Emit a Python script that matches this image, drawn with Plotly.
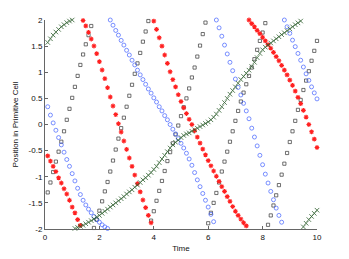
import plotly.graph_objects as go

time = [0.1, 0.2, 0.3, 0.4, 0.5, 0.6, 0.7, 0.8, 0.9, 1.0,
        1.1, 1.2, 1.3, 1.4, 1.5, 1.6, 1.7, 1.8, 1.9, 2.0,
        2.1, 2.2, 2.3, 2.4, 2.5, 2.6, 2.7, 2.8, 2.9, 3.0,
        3.1, 3.2, 3.3, 3.4, 3.5, 3.6, 3.7, 3.8, 3.9, 4.0,
        4.1, 4.2, 4.3, 4.4, 4.5, 4.6, 4.7, 4.8, 4.9, 5.0,
        5.1, 5.2, 5.3, 5.4, 5.5, 5.6, 5.7, 5.8, 5.9, 6.0,
        6.1, 6.2, 6.3, 6.4, 6.5, 6.6, 6.7, 6.8, 6.9, 7.0,
        7.1, 7.2, 7.3, 7.4, 7.5, 7.6, 7.7, 7.8, 7.9, 8.0,
        8.1, 8.2, 8.3, 8.4, 8.5, 8.6, 8.7, 8.8, 8.9, 9.0,
        9.1, 9.2, 9.3, 9.4, 9.5, 9.6, 9.7, 9.8, 9.9, 10.0]

red_pos = [-0.60, -0.70, -0.80, -0.90, -1.02, -1.12, -1.23, -1.33, -1.45, -1.58,
           -1.69, -1.82, -1.93, 1.99, 1.886, 1.765, 1.636, 1.502, 1.355, 1.202,
           1.043, 0.877, 0.704, 0.526, 0.354, 0.19, 0.015, -0.144, -0.316, -0.475,
           -0.641, -0.80, -0.967, -1.133, -1.29, -1.445, -1.59, -1.74, -1.88, 1.98,
           1.82, 1.66, 1.50, 1.33, 1.17, 1.01, 0.86, 0.72, 0.57, 0.44,
           0.32, 0.21, 0.10, 0.0, -0.12, -0.24, -0.355, -0.47, -0.58, -0.69,
           -0.79, -0.89, -0.99, -1.09, -1.19, -1.28, -1.38, -1.47, -1.57, -1.66,
           -1.74, -1.81, -1.88, -1.94, 2.00, 1.93, 1.87, 1.80, 1.74, 1.67,
           1.60, 1.53, 1.46, 1.38, 1.30, 1.22, 1.13, 1.04, 0.95, 0.85,
           0.75, 0.64, 0.52, 0.40, 0.27, 0.14, 0.0, -0.14, -0.28, -0.44]

blue_pos = [0.34, 0.18, 0.03, -0.11, -0.25, -0.39, -0.53, -0.67, -0.80, -0.94,
            -1.08, -1.22, -1.34, -1.45, -1.54, -1.62, -1.69, -1.76, -1.82, -1.87,
            -1.92, -1.96, -1.99, 2.00, 1.90, 1.80, 1.71, 1.61, 1.52, 1.42,
            1.33, 1.23, 1.14, 1.04, 0.95, 0.86, 0.77, 0.68, 0.60, 0.51,
            0.43, 0.34, 0.26, 0.17, 0.09, 0.0, -0.09, -0.18, -0.27, -0.36,
            -0.45, -0.55, -0.66, -0.78, -0.92, -1.06, -1.19, -1.32, -1.45, -1.58,
            -1.72, -1.86, 2.0, 1.85, 1.69, 1.52, 1.35, 1.19, 1.03, 0.87,
            0.71, 0.565, 0.405, 0.26, 0.11, -0.07, -0.24, -0.41, -0.59, -0.77,
            -0.95, -1.12, -1.28, -1.44, -1.60, -1.74, -1.87, 2.0, 1.87, 1.745,
            1.615, 1.49, 1.36, 1.23, 1.10, 0.97, 0.845, 0.72, 0.605, 0.49]

black_pos = [-1.30, -1.11, -0.91, -0.71, -0.52, -0.33, -0.13, 0.09, 0.30, 0.51,
             0.72, 0.93, 1.14, 1.34, 1.535, 1.71, 1.885, -1.98, -1.82, -1.65,
             -1.47, -1.28, -1.10, -0.90, -0.69, -0.48, -0.27, -0.07, 0.13, 0.34,
             0.55, 0.76, 0.97, 1.17, 1.37, 1.585, 1.78, 1.98, -1.84, -1.66,
             -1.46, -1.27, -1.08, -0.89, -0.70, -0.53, -0.36, -0.19, -0.02, 0.16,
             0.33, 0.50, 0.69, 0.90, 1.09, 1.30, 1.51, 1.73, 1.95, -1.89,
             -1.69, -1.50, -1.31, -1.11, -0.90, -0.71, -0.52, -0.33, -0.13, 0.07,
             0.26, 0.44, 0.61, 0.77, 0.93, 1.09, 1.25, 1.43, 1.60, 1.76,
             1.94, -1.92, -1.74, -1.55, -1.355, -1.16, -0.96, -0.75, -0.545, -0.335,
             -0.13, 0.07, 0.28, 0.47, 0.66, 0.84, 1.02, 1.22, 1.41, 1.60]

green_pos = [1.57, 1.64, 1.71, 1.77, 1.82, 1.87, 1.91, 1.95, 1.98, 2.0,
             -1.99, -1.97, -1.95, -1.93, -1.90, -1.87, -1.84, -1.81, -1.77, -1.74,
             -1.70, -1.66, -1.62, -1.58, -1.54, -1.50, -1.46, -1.42, -1.38, -1.33,
             -1.29, -1.25, -1.20, -1.16, -1.11, -1.06, -1.02, -0.97, -0.92, -0.86,
             -0.80, -0.73, -0.66, -0.59, -0.52, -0.45, -0.39, -0.34, -0.30, -0.25,
             -0.21, -0.18, -0.16, -0.13, -0.10, -0.07, -0.04, -0.01, 0.02, 0.05,
             0.09, 0.14, 0.20, 0.27, 0.34, 0.42, 0.50, 0.58, 0.65, 0.72,
             0.79, 0.86, 0.92, 0.98, 1.04, 1.11, 1.19, 1.28, 1.36, 1.43,
             1.48, 1.52, 1.56, 1.60, 1.64, 1.68, 1.72, 1.755, 1.795, 1.83,
             1.87, 1.91, 1.945, 1.98, -1.96, -1.89, -1.82, -1.76, -1.70, -1.64]

x_ticks = [0, 2, 4, 6, 8, 10]
x_tick_labels = ["0", "2", "4", "6", "8", "10"]
y_ticks = [-2, -1.5, -1, -0.5, 0, 0.5, 1, 1.5, 2]
y_tick_labels = ["-2", "-1.5", "-1", "-0.5", "0", "0.5", "1", "1.5", "2"]

FONT = "Liberation Sans, Arial, sans-serif"

fig = go.Figure()
fig.add_trace(go.Scatter(x=time, y=black_pos, mode="markers", cliponaxis=False,
                         marker=dict(symbol="square-open", size=3.2, color="#333333",
                                     line=dict(width=0.7, color="#333333"))))
fig.add_trace(go.Scatter(x=time, y=blue_pos, mode="markers", cliponaxis=False,
                         marker=dict(symbol="circle-open", size=4, color="#4060ff",
                                     line=dict(width=0.7, color="#4060ff"))))
fig.add_trace(go.Scatter(x=time, y=red_pos, mode="markers", cliponaxis=False,
                         marker=dict(symbol="asterisk-open", size=4, color="#ff2020",
                                     line=dict(width=1.1, color="#ff2020"))))
fig.add_trace(go.Scatter(x=time, y=green_pos, mode="markers", cliponaxis=False,
                         marker=dict(symbol="x-thin-open", size=4.5, color="#2f5f2f",
                                     line=dict(width=0.8, color="#2f5f2f"))))

axis_common = dict(showgrid=False, zeroline=False, showline=True, linecolor="#666666",
                   linewidth=1, ticks="inside", ticklen=3, tickcolor="#666666",
                   tickwidth=1, mirror=False, automargin=False,
                   tickfont=dict(family=FONT, size=8, color="#111111"))

fig.update_layout(
    width=349, height=259,
    margin=dict(l=37, r=40, t=12, b=38),
    paper_bgcolor="white", plot_bgcolor="white",
    showlegend=False,
    xaxis=dict(range=[0, 10], tickvals=x_ticks, ticktext=x_tick_labels,
               title=dict(text="Time", standoff=4,
                          font=dict(family=FONT, size=8, color="#111111")),
               **axis_common),
    yaxis=dict(range=[-2, 2], tickvals=y_ticks, ticktext=y_tick_labels,
               title=dict(text="Position in Primitive Cell", standoff=8,
                          font=dict(family=FONT, size=8, color="#111111")),
               **axis_common),
)

fig.write_html("out.html")
